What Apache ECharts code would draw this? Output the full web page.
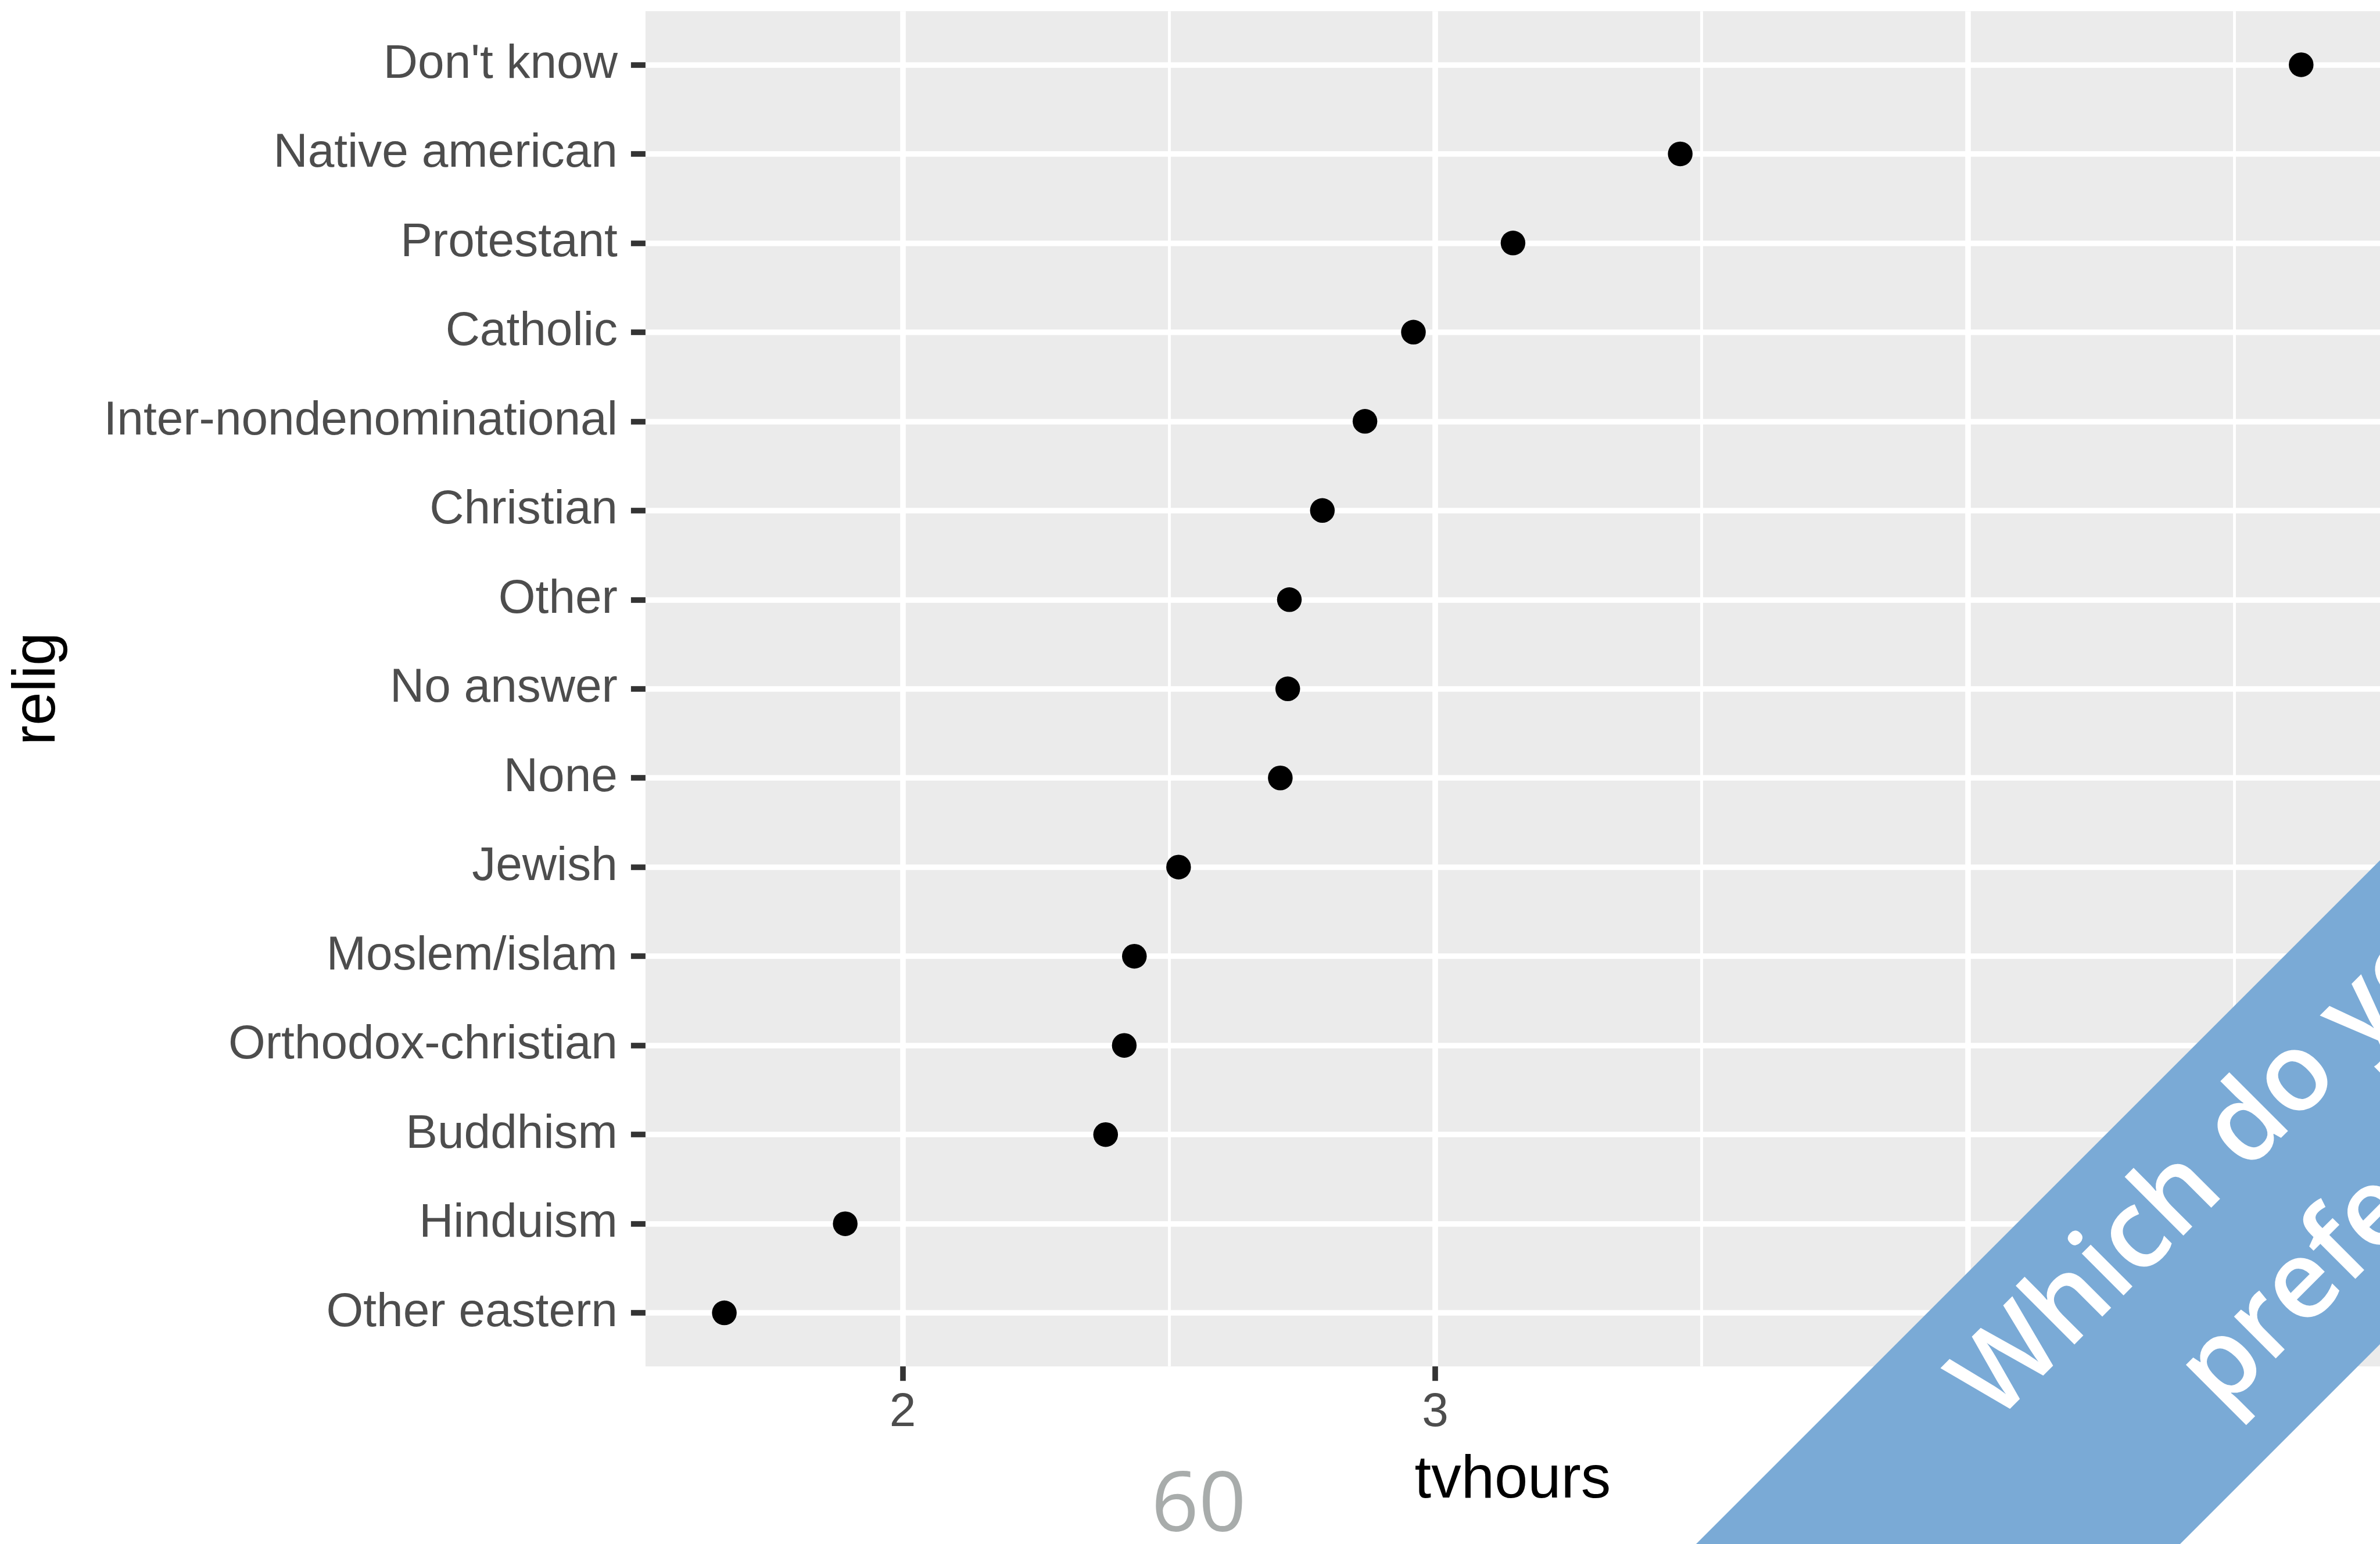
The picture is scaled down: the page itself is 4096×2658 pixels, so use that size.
<!DOCTYPE html>
<html>
<head>
<meta charset="utf-8">
<script src="https://cdn.jsdelivr.net/npm/echarts@6/dist/echarts.min.js"></script>
<style>
  html, body { margin: 0; padding: 0; background: #fff; }
  #chart { width: 4096px; height: 2658px; }
</style>
</head>
<body>
<div id="chart"></div>
<script>
// religion categories, top to bottom
var religions = ["Don't know", 'Native american', 'Protestant', 'Catholic',
  'Inter-nondenominational', 'Christian', 'Other', 'No answer', 'None',
  'Jewish', 'Moslem/islam', 'Orthodox-christian', 'Buddhism', 'Hinduism', 'Other eastern'];
// mean tv hours per religion
var tvhours = [4.626, 3.460, 3.146, 2.959, 2.868, 2.788, 2.726, 2.723, 2.709,
  2.518, 2.435, 2.416, 2.381, 1.892, 1.665];
var xTicks = [2, 3, 4];

var S = 0.966;
var FONT = 'Liberation Sans, Arial, Helvetica, sans-serif';

// ggplot style 5% expansion of the x range
var lo = Math.min.apply(null, tvhours), hi = Math.max.apply(null, tvhours);
var pad = (hi - lo) * 0.05;
var xMin = lo - pad, xMax = hi + pad;

var panelTop = 20 * S, panelBottom = 2435 * S;
var step = (panelBottom - panelTop) / 15.2;
var innerTop = panelTop + 0.6 * step, innerBottom = panelBottom - 0.6 * step;
var H = 2658;

var myChart = echarts.init(document.getElementById('chart'));

var option = {
  backgroundColor: '#ffffff',
  animation: false,
  grid: [
    { left: 1150 * S, right: 0, top: panelTop, bottom: H - panelBottom,
      show: true, backgroundColor: '#ebebeb', borderWidth: 0, z: -1 },
    { left: 1150 * S, right: 0, top: innerTop, bottom: H - innerBottom, show: false }
  ],
  xAxis: [
    {
      gridIndex: 0, type: 'value', min: xMin, max: xMax, splitNumber: 3,
      name: 'tvhours', nameLocation: 'middle', nameGap: 146,
      nameTextStyle: { fontFamily: FONT, fontSize: 103, color: '#000' },
      axisLine: { show: false },
      axisTick: { show: true, length: 25, customValues: xTicks,
        lineStyle: { color: '#333333', width: 10 * S } },
      axisLabel: { show: true, customValues: xTicks, margin: 39,
        fontFamily: FONT, fontSize: 82, color: '#4d4d4d',
        formatter: function (v) { return xTicks.indexOf(v) >= 0 ? String(v) : ''; } },
      splitLine: { show: true, lineStyle: { color: '#ffffff', width: 10 * S } },
      minorTick: { show: false, splitNumber: 2 },
      minorSplitLine: { show: true, lineStyle: { color: '#ffffff', width: 5 * S } }
    },
    { gridIndex: 1, type: 'value', min: xMin, max: xMax, show: false }
  ],
  yAxis: [
    { gridIndex: 0, type: 'value', min: 0, max: 1, show: false },
    {
      gridIndex: 1, type: 'category', data: religions, inverse: true, boundaryGap: false,
      name: 'relig', nameLocation: 'middle', nameGap: 994, nameRotate: 90,
      nameTextStyle: { fontFamily: FONT, fontSize: 103, color: '#000' },
      axisLine: { show: false },
      axisTick: { show: true, length: 25, interval: 0,
        lineStyle: { color: '#333333', width: 10 * S } },
      axisLabel: { interval: 0, margin: 48, fontFamily: FONT, fontSize: 82, color: '#4d4d4d' },
      splitLine: { show: true, interval: 0, lineStyle: { color: '#ffffff', width: 10 * S } }
    }
  ],
  series: [
    {
      type: 'scatter', xAxisIndex: 1, yAxisIndex: 1,
      symbol: 'circle', symbolSize: 44 * S,
      itemStyle: { color: '#000000', opacity: 1 },
      data: tvhours.map(function (v, i) { return [v, religions[i]]; }),
      z: 5
    }
  ],
  graphic: [
    {
      type: 'text', z: 50,
      x: 2063, y: 2595,
      style: { text: '60', fill: '#a8acab', font: '143px "Open Sans", sans-serif',
        align: 'center', verticalAlign: 'middle' }
    },
    {
      type: 'polygon', z: 100,
      shape: { points: [[4146, 1431], [4146, 2264], [3702, 2708], [2869, 2708]] },
      style: { fill: '#7aaad6' }
    },
    {
      type: 'text', z: 101,
      x: 3922, y: 2072, rotation: Math.PI / 4,
      style: { text: 'Which do you\nprefer?', fill: '#ffffff',
        font: '600 188px "Open Sans", sans-serif', lineHeight: 262,
        align: 'center', verticalAlign: 'middle' }
    }
  ]
};

myChart.setOption(option);
</script>
</body>
</html>
